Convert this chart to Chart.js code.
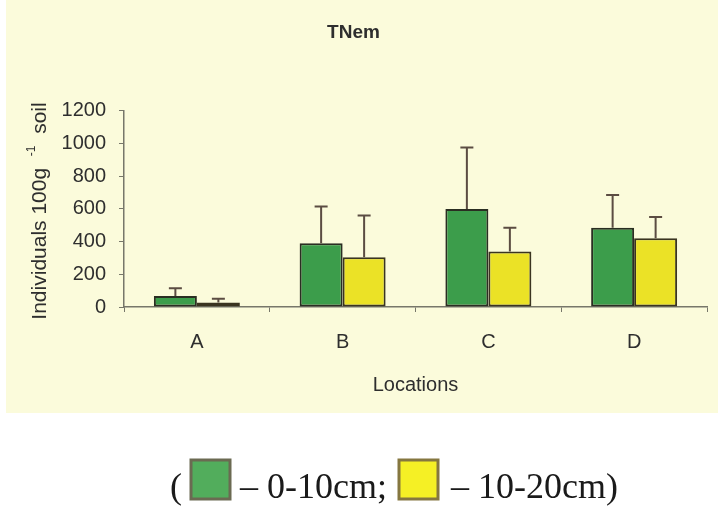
<!DOCTYPE html>
<html>
<head>
<meta charset="utf-8">
<script src="https://cdn.jsdelivr.net/npm/chart.js@4.4.0/dist/chart.umd.min.js"></script>
<style>
  html, body { margin: 0; padding: 0; background: #ffffff; }
  #wrap { width: 718px; height: 510px; }
</style>
</head>
<body>
<div id="wrap"><canvas id="c" width="718" height="510"></canvas></div>
<script>
// Total nematodes (TNem) per location, two soil depths: mean and standard deviation
const locations = ['A', 'B', 'C', 'D'];
const depthLabels = ['0-10cm', '10-20cm'];
const mean0to10 = [67, 390, 600, 485];
const sd0to10 = [48, 225, 375, 200];
const mean10to20 = [28, 305, 340, 420];
const sd10to20 = [22, 255, 145, 130];
const yTickValues = [0, 200, 400, 600, 800, 1000, 1200];

const SANS = '"Liberation Sans", Arial, sans-serif';
const SERIF = '"Liberation Serif", "Times New Roman", serif';
const INK = '#2e2e2e';
const AXIS = '#77776a';

// page background: white page with a cream chart panel
const panelBackground = {
  id: 'panelBackground',
  beforeDraw(chart) {
    const ctx = chart.ctx;
    ctx.save();
    ctx.fillStyle = '#ffffff';
    ctx.fillRect(0, 0, chart.width, chart.height);
    ctx.fillStyle = '#fbfbdb';
    ctx.fillRect(6, 0, chart.width - 6, 413);
    ctx.restore();
  }
};

// upward error bars with a cap, from each bar top to mean + sd
const errorBars = {
  id: 'errorBars',
  afterDatasetsDraw(chart) {
    const ctx = chart.ctx;
    const y = chart.scales.y;
    ctx.save();
    ctx.strokeStyle = '#5b4c42';
    ctx.lineWidth = 2;
    chart.data.datasets.forEach((ds, di) => {
      const meta = chart.getDatasetMeta(di);
      meta.data.forEach((bar, i) => {
        const top = y.getPixelForValue(ds.data[i] + ds.sd[i]);
        const base = y.getPixelForValue(ds.data[i]);
        ctx.beginPath();
        ctx.moveTo(bar.x, base);
        ctx.lineTo(bar.x, top);
        ctx.moveTo(bar.x - 6.5, top);
        ctx.lineTo(bar.x + 6.5, top);
        ctx.stroke();
      });
    });
    ctx.restore();
  }
};

// rotated y-axis title with a superscript exponent
const yTitle = {
  id: 'yTitle',
  afterDraw(chart) {
    const ctx = chart.ctx;
    const parts = [
      { t: 'Individuals 100g', f: '21px ' + SANS, dy: 0 },
      { t: '  ', f: '21px ' + SANS, dy: 0 },
      { t: '-1', f: '12px ' + SANS, dy: -8 },
      { t: '  soil', f: '21px ' + SANS, dy: 0 }
    ];
    ctx.save();
    let total = 0;
    parts.forEach(p => { ctx.font = p.f; p.w = ctx.measureText(p.t).width; total += p.w; });
    ctx.translate(40, 211);
    ctx.rotate(-Math.PI / 2);
    ctx.fillStyle = INK;
    ctx.textBaseline = 'middle';
    ctx.textAlign = 'left';
    let x = -total / 2;
    parts.forEach(p => {
      ctx.font = p.f;
      ctx.fillText(p.t, x, p.dy);
      x += p.w;
    });
    ctx.restore();
  }
};

// legend line under the chart panel: ( [box] – 0-10cm; [box] – 10-20cm)
const depthLegend = {
  id: 'depthLegend',
  afterDraw(chart) {
    const ctx = chart.ctx;
    const ds = chart.data.datasets;
    const baseline = 498;
    ctx.save();
    ctx.font = '36px ' + SERIF;
    ctx.fillStyle = '#1a1a1a';
    ctx.textBaseline = 'alphabetic';
    ctx.fillText('(', 170, baseline);
    const boxes = [
      { x: 191, text: '\u2013 ' + ds[0].label + ';', tx: 240, fill: '#52ad5c', edge: '#6b6a52' },
      { x: 399, text: '\u2013 ' + ds[1].label + ')', tx: 451, fill: '#f5f025', edge: '#857740' }
    ];
    boxes.forEach(b => {
      ctx.fillStyle = b.fill;
      ctx.fillRect(b.x, 460, 39, 39);
      ctx.strokeStyle = b.edge;
      ctx.lineWidth = 3;
      ctx.strokeRect(b.x, 460, 39, 39);
      ctx.fillStyle = '#1a1a1a';
      ctx.fillText(b.text, b.tx, baseline);
    });
    ctx.restore();
  }
};

new Chart(document.getElementById('c'), {
  type: 'bar',
  data: {
    labels: locations,
    datasets: [
      {
        label: depthLabels[0],
        data: mean0to10,
        sd: sd0to10,
        backgroundColor: '#3c9d4b',
        borderColor: '#2a2e22',
        borderWidth: 2,
        borderSkipped: false
      },
      {
        label: depthLabels[1],
        data: mean10to20,
        sd: sd10to20,
        backgroundColor: '#ebe226',
        borderColor: '#3a3420',
        borderWidth: 2,
        borderSkipped: false
      }
    ]
  },
  options: {
    responsive: false,
    devicePixelRatio: 1,
    animation: false,
    layout: { padding: { left: 0, right: 11, top: 0, bottom: 0 } },
    datasets: { bar: { categoryPercentage: 0.59, barPercentage: 1.0 } },
    plugins: {
      legend: { display: false },
      tooltip: { enabled: false },
      title: {
        display: true,
        text: 'TNem',
        color: INK,
        font: { family: SANS, size: 19, weight: 'bold' },
        padding: { top: 21, bottom: 67 }
      }
    },
    scales: {
      x: {
        afterFit(scale) { scale.height = 203; },
        grid: { display: true, drawOnChartArea: false, drawTicks: true, tickLength: 5, color: AXIS, offset: true },
        border: { display: true, color: AXIS, width: 1.5 },
        ticks: { color: INK, font: { family: SANS, size: 20 }, padding: 18 },
        title: {
          display: true,
          text: 'Locations',
          color: INK,
          font: { family: SANS, size: 20 },
          padding: { top: 0, bottom: 113 }
        }
      },
      y: {
        min: 0,
        max: 1200,
        afterFit(scale) { scale.width = 124; },
        afterBuildTicks(scale) { scale.ticks = yTickValues.map(v => ({ value: v })); },
        grid: { display: true, drawOnChartArea: false, drawTicks: true, tickLength: 5, color: AXIS },
        border: { display: true, color: AXIS, width: 1.5 },
        ticks: {
          color: INK,
          font: { family: SANS, size: 20 },
          padding: 13,
          callback: (v) => String(v)
        }
      }
    }
  },
  plugins: [panelBackground, errorBars, yTitle, depthLegend]
});
</script>
</body>
</html>
